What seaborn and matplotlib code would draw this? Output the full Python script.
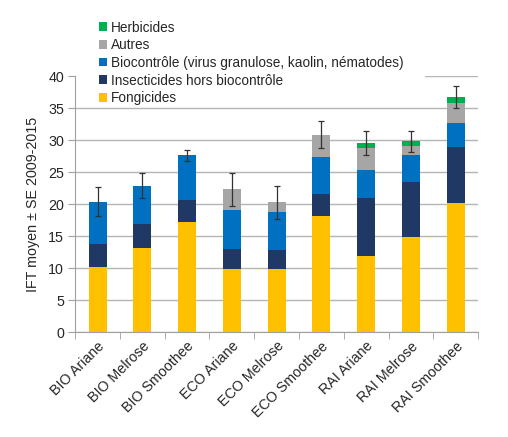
import numpy as np
import pandas as pd
import matplotlib
matplotlib.use("Agg")
import matplotlib.pyplot as plt
from matplotlib.patches import Rectangle
import seaborn as sns

categories = ["BIO Ariane", "BIO Melrose", "BIO Smoothee",
              "ECO Ariane", "ECO Melrose", "ECO Smoothee",
              "RAI Ariane", "RAI Melrose", "RAI Smoothee"]

fongicides = [10.1, 13.1, 17.2, 9.8, 9.9, 18.1, 11.9, 14.8, 20.1]
insecticides = [3.6, 3.8, 3.4, 3.2, 2.9, 3.5, 9.0, 8.6, 8.8]
biocontrole = [6.7, 6.0, 7.0, 6.0, 5.95, 5.8, 4.5, 4.3, 3.8]
autres = [0.0, 0.0, 0.0, 3.3, 1.55, 3.4, 3.3, 1.3, 3.1]
herbicides = [0.0, 0.0, 0.0, 0.0, 0.0, 0.0, 0.8, 0.8, 0.9]
se = [2.3, 2.0, 0.9, 2.6, 2.6, 2.1, 1.9, 1.6, 1.7]

series = [
    ("Fongicides", fongicides, "#FFC000"),
    ("Insecticides hors biocontrôle", insecticides, "#1F3864"),
    ("Biocontrôle (virus granulose, kaolin, nématodes)", biocontrole, "#0070C0"),
    ("Autres", autres, "#A6A6A6"),
    ("Herbicides", herbicides, "#00B050"),
]

sns.set_style("white")
plt.rcParams["font.family"] = ["Liberation Sans", "DejaVu Sans"]

fig = plt.figure(figsize=(5.08, 4.37), dpi=100)
ax = fig.add_axes([0.148, 0.240, 0.793, 0.586])

bottom = np.zeros(len(categories))
for name, vals, color in series:
    df = pd.DataFrame({"cat": categories, "val": vals})
    sns.barplot(data=df, x="cat", y="val", color=color, width=0.4,
                bottom=bottom, ax=ax, label=name, errorbar=None,
                linewidth=0, saturation=1, legend=False)
    bottom = bottom + np.array(vals)

ax.errorbar(np.arange(len(categories)), bottom, yerr=se, fmt="none",
            ecolor="#333333", elinewidth=0.9, capsize=2, capthick=0.9)

ax.set_ylim(0, 40)
ax.set_xlim(-0.5, len(categories) - 0.5)
ax.set_yticks(range(0, 41, 5))
ax.yaxis.grid(True, color="#B5B5B5", linewidth=1)
ax.set_axisbelow(True)
for s in ["top", "right"]:
    ax.spines[s].set_visible(False)
for s in ["left", "bottom"]:
    ax.spines[s].set_color("#A0A0A0")
ax.tick_params(axis="y", length=5, color="#A0A0A0", labelsize=10.3,
               left=True, pad=3)
ax.set_xticks(np.arange(len(categories)))
ax.set_xticklabels(categories, rotation=45, ha="right",
                   rotation_mode="anchor", fontsize=10.3)
ax.tick_params(axis="x", length=0, pad=5)
ax.set_xticks(np.arange(-0.5, len(categories)), minor=True)
ax.tick_params(axis="x", which="minor", length=5, color="#A0A0A0", bottom=True)
ax.set_xlabel("")
ax.set_ylabel("IFT moyen ± SE 2009-2015", fontsize=10.3, labelpad=6)

# white legend area hiding the top gridline, like the original
ax.add_patch(Rectangle((-0.49, 35.6), 7.8, 6, facecolor="white",
                       edgecolor="none", zorder=1.5, clip_on=False))

h, l = ax.get_legend_handles_labels()
if ax.get_legend() is not None:
    ax.get_legend().remove()
leg = ax.legend(h[::-1], l[::-1], loc="upper left",
                bbox_to_anchor=(0.1865, 0.9624),
                bbox_transform=fig.transFigure, frameon=False,
                fontsize=9.8, handlelength=0.6, handleheight=0.6,
                handletextpad=0.3, labelspacing=0.27, borderpad=0.3,
                borderaxespad=0)
leg.set_zorder(10)

fig.savefig("out.png", dpi=100)
